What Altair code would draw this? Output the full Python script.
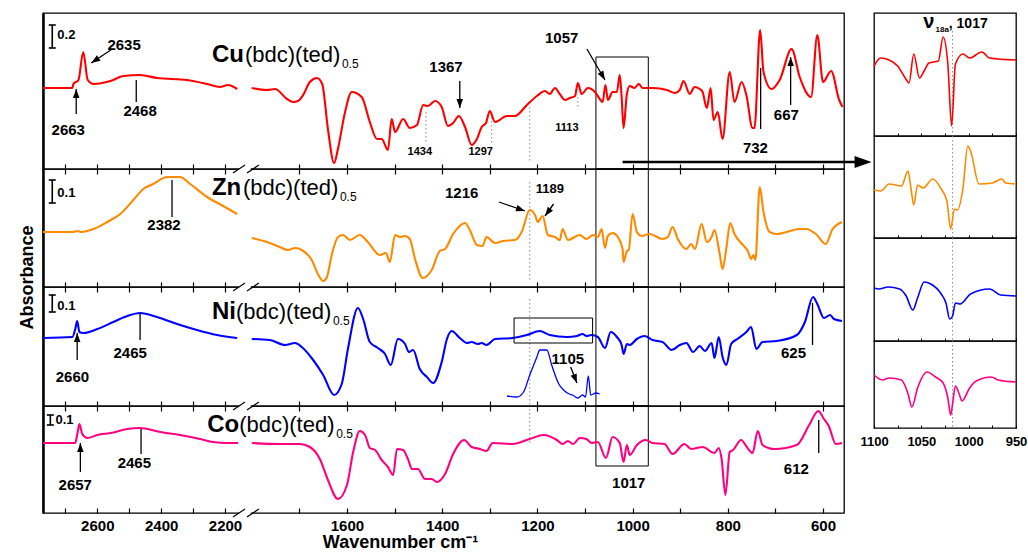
import altair as alt
import pandas as pd

FONT = "Liberation Sans"

# ---------------- spectra: wavenumber (cm-1) / absorbance (arb. units, own scale per panel) ----------------
cu_hi_wn = [2770, 2678, 2675, 2659, 2644, 2630, 2612, 2559, 2518, 2466, 2413, 2319, 2256, 2216, 2191, 2162]
cu_hi_ab = [81, 81, 85, 89, 117, 89, 85, 88, 93, 94, 91, 89, 85, 82, 84, 80]
cu_lo_wn = [1800, 1768, 1751, 1726, 1713, 1703, 1692, 1678, 1663, 1652,
            1640, 1627, 1619, 1604, 1590, 1569, 1552, 1537, 1527, 1514,
            1506, 1499, 1482, 1468, 1453, 1440, 1430, 1415, 1401, 1388,
            1377, 1365, 1352, 1338, 1327, 1317, 1308, 1300, 1289, 1264,
            1247, 1222, 1201, 1184, 1174, 1163, 1153, 1142, 1132, 1121,
            1115, 1107, 1094, 1079, 1069, 1063, 1057, 1052, 1042, 1033,
            1027, 1023, 1019, 1012, 1006, 996, 987, 979, 958, 928,
            911, 901, 893, 880, 870, 859, 853, 844, 836, 830,
            821, 811, 796, 786, 771, 761, 748, 744, 732, 725,
            708, 691, 666, 649, 625, 612, 600, 583, 566, 559]
cu_lo_ab = [81, 79, 80, 70, 67, 68, 74, 87, 91, 85,
            40, 6, 20, 57, 77, 72, 47, 30, 30, 19,
            50, 37, 50, 41, 44, 64, 63, 68, 62, 43,
            46, 53, 42, 24, 30, 42, 46, 58, 47, 53,
            53, 64, 73, 78, 75, 81, 75, 69, 71, 73,
            86, 75, 81, 77, 70, 67, 84, 69, 77, 77,
            94, 72, 41, 75, 83, 81, 85, 81, 81, 79,
            76, 79, 88, 75, 82, 80, 77, 61, 81, 49,
            57, 30, 97, 67, 87, 74, 41, 41, 139, 97,
            80, 89, 120, 92, 72, 134, 87, 98, 69, 62]

zn_hi_wn = [2770, 2678, 2662, 2650, 2612, 2569, 2528, 2487, 2456, 2425, 2381, 2341, 2309, 2256, 2206, 2162]
zn_hi_ab = [55, 55, 56, 55, 58, 65, 73, 87, 98, 103, 110, 110, 103, 90, 81, 73]
zn_lo_wn = [1800, 1768, 1741, 1724, 1709, 1695, 1674, 1660, 1650, 1642,
            1632, 1619, 1608, 1594, 1573, 1558, 1531, 1518, 1510, 1499,
            1489, 1478, 1468, 1457, 1441, 1422, 1405, 1394, 1377, 1352,
            1342, 1327, 1315, 1307, 1289, 1272, 1247, 1233, 1216, 1205,
            1199, 1189, 1178, 1163, 1153, 1147, 1136, 1111, 1097, 1083,
            1073, 1065, 1058, 1052, 1042, 1031, 1021, 1019, 1012, 1008,
            1000, 991, 981, 964, 937, 926, 916, 905, 887, 877,
            869, 855, 844, 834, 828, 817, 811, 803, 795, 786,
            768, 758, 751, 746, 742, 733, 725, 712, 697, 649,
            635, 615, 594, 581, 560]
zn_lo_ab = [49, 45, 40, 37, 39, 37, 27, 12, 6, 10,
            32, 50, 52, 47, 52, 46, 32, 34, 25, 52,
            50, 51, 48, 28, 9, 17, 36, 38, 53, 64,
            57, 42, 41, 50, 44, 46, 47, 55, 77, 72,
            65, 71, 52, 50, 47, 58, 47, 52, 48, 52,
            50, 58, 39, 51, 54, 50, 38, 25, 36, 37,
            73, 55, 51, 53, 48, 50, 60, 48, 38, 43,
            38, 63, 45, 50, 57, 33, 18, 39, 64, 53,
            42, 36, 28, 32, 27, 100, 75, 55, 53, 58,
            58, 53, 43, 57, 65]

ni_hi_wn = [2770, 2678, 2669, 2663, 2656, 2644, 2600, 2550, 2506, 2466, 2413, 2350, 2288, 2225, 2162]
ni_hi_ab = [68, 69, 77, 85, 74, 73, 77, 84, 90, 93, 89, 82, 76, 71, 68]
ni_lo_wn = [1800, 1762, 1730, 1709, 1695, 1671, 1650, 1627, 1611, 1598,
            1577, 1566, 1552, 1535, 1520, 1508, 1493, 1478, 1470, 1461,
            1447, 1432, 1419, 1401, 1390, 1380, 1363, 1348, 1338, 1325,
            1317, 1307, 1289, 1252, 1222, 1195, 1174, 1138, 1117, 1105,
            1097, 1086, 1073, 1058, 1046, 1033, 1023, 1019, 1012, 1006,
            991, 975, 958, 937, 918, 901, 887, 873, 859, 848,
            834, 828, 819, 811, 803, 793, 780, 761, 751, 740,
            727, 697, 655, 638, 621, 612, 598, 585, 577, 560]
ni_lo_ab = [67, 66, 61, 63, 59, 46, 31, 11, 22, 57,
            98, 87, 64, 58, 52, 41, 67, 62, 54, 56,
            37, 29, 23, 44, 67, 75, 68, 63, 64, 62,
            63, 61, 67, 68, 71, 75, 71, 69, 70, 72,
            70, 71, 69, 58, 74, 69, 61, 52, 62, 61,
            67, 70, 66, 64, 56, 61, 63, 54, 60, 55,
            63, 48, 69, 49, 41, 62, 67, 74, 79, 57,
            64, 65, 71, 84, 109, 102, 88, 91, 87, 85]
# magnified trace of the boxed Ni region
ni_zoom_wn = [1264, 1243, 1229, 1216, 1201, 1195, 1180, 1170, 1155, 1145, 1133, 1126, 1115, 1105, 1099, 1093, 1088, 1077, 1069]
ni_zoom_ab = [10, 9, 14, 31, 49, 56, 56, 41, 22, 16, 12, 11, 8, 11, 9, 30, 11, 13, 12]

co_hi_wn = [2770, 2669, 2663, 2656, 2647, 2631, 2600, 2559, 2506, 2466, 2403, 2341, 2278, 2237, 2194, 2159]
co_hi_ab = [70, 70, 78, 89, 79, 75, 78, 80, 84, 85, 81, 78, 74, 71, 70, 70]
co_lo_wn = [1800, 1741, 1699, 1678, 1657, 1640, 1619, 1600, 1587, 1573,
            1562, 1552, 1541, 1527, 1514, 1503, 1495, 1482, 1472, 1463,
            1451, 1436, 1422, 1411, 1394, 1377, 1354, 1338, 1321, 1307,
            1294, 1252, 1216, 1187, 1159, 1147, 1136, 1125, 1111, 1097,
            1086, 1073, 1056, 1042, 1027, 1019, 1012, 1006, 991, 972,
            958, 933, 916, 891, 877, 853, 828, 819, 813, 805,
            796, 789, 772, 760, 748, 737, 727, 702, 655, 629,
            610, 598, 588, 573, 560]
co_lo_ab = [70, 69, 69, 66, 54, 33, 14, 28, 61, 82,
            78, 65, 63, 53, 46, 38, 64, 63, 54, 44,
            44, 34, 34, 31, 39, 59, 73, 66, 64, 62,
            70, 69, 74, 78, 73, 69, 72, 69, 75, 74,
            70, 71, 55, 76, 70, 51, 68, 58, 68, 73,
            70, 69, 59, 69, 64, 66, 60, 65, 54, 18,
            61, 63, 73, 66, 60, 82, 68, 64, 68, 88,
            102, 94, 87, 69, 70]

# inset (1100-950 cm-1)
cu_in_wn = [1100, 1093, 1084, 1075, 1067, 1063, 1058, 1052, 1047, 1042, 1032, 1027, 1022, 1018, 1014, 1006, 999, 986, 978, 950]
cu_in_ab = [70, 78, 76, 70, 58, 53, 82, 58, 65, 73, 75, 99, 72, 10, 72, 82, 78, 84, 78, 76]
zn_in_wn = [1100, 1093, 1084, 1071, 1064, 1061, 1058, 1054, 1048, 1038, 1029, 1023, 1019, 1015, 1012, 1006, 1001, 998, 989, 975, 965, 961, 950]
zn_in_ab = [48, 47, 54, 52, 67, 50, 33, 53, 50, 59, 49, 37, 9, 29, 28, 50, 92, 87, 54, 55, 59, 55, 54]
ni_in_wn = [1100, 1095, 1085, 1073, 1066, 1059, 1054, 1047, 1040, 1029, 1024, 1020, 1017, 1014, 1009, 998, 978, 966, 950]
ni_in_ab = [53, 52, 54, 52, 45, 31, 43, 59, 57, 47, 38, 22, 25, 38, 37, 47, 52, 46, 45]
co_in_wn = [1100, 1091, 1084, 1071, 1064, 1060, 1054, 1044, 1035, 1027, 1022, 1019, 1017, 1014, 1010, 1007, 999, 992, 976, 969, 950]
co_in_ab = [53, 48, 50, 48, 34, 21, 40, 56, 51, 45, 30, 13, 24, 42, 34, 27, 40, 47, 51, 48, 46]

# ---------------- annotations (wavenumber, absorbance) ----------------
cu_labels = [(2516, 124, "2635"), (2691, 39, "2663"), (2466, 58, "2468"), (1392, 102, "1367"),
             (1149, 131, "1057"), (742, 21, "732"), (677, 54, "667")]
cu_small = [(1447, 17, "1434"), (1319, 17, "1297"), (1138, 41, "1113")]
cu_ptr = [(2553, 120, 2619, 106), (2666, 55, 2666, 80), (2478, 89, 2478, 67), (1363, 88, 1363, 61),
          (1096, 120, 1058, 89), (731, 101, 731, 40), (668, 64, 668, 112)]
cu_heads = [(2619, 106, 236), (2666, 80, 0), (1363, 61, 180), (1058, 89, 150), (668, 112, 0)]
cu_dots = [(1434, 57, 26), (1296, 52, 26), (1115, 72, 60), (1216, 62, 7)]

zn_labels = [(2391, 62, "2382"), (1359, 94, "1216")]
zn_small = [(1174, 98, "1189")]
zn_ptr = [(2366, 107, 2366, 70), (1281, 85, 1226, 76), (1166, 83, 1184, 71)]
zn_heads = [(1226, 76, 109), (1184, 71, 217)]
zn_dots = [(1216, 105, 5)]

ni_labels = [(2678, 29, "2660"), (2497, 53, "2465"), (1136, 47, "1105"), (662, 53, "625")]
ni_ptr = [(2663, 46, 2663, 73), (2466, 93, 2466, 66), (1130, 39, 1117, 23), (622, 103, 622, 61)]
ni_heads = [(2663, 73, 0), (1117, 23, 159)]
ni_dots = [(1216, 107, 1)]

co_labels = [(2669, 28, "2657"), (2484, 50, "2465"), (656, 44, "612"), (1008, 30, "1017")]
co_ptr = [(2653, 41, 2653, 70), (2463, 84, 2463, 59), (609, 93, 609, 60)]
co_heads = [(2653, 70, 0)]
co_dots = [(1216, 104, 68)]

# ---------------- layout / style ----------------
MAIN_W = 801
ROW_H = [156, 118, 119, 107]
INSET_W = 142
INSET_H = [123, 102, 103, 87]
XS_DOMAIN = [2770, 2150, 1810, 558]
XS_RANGE = [0, 198, 204, 800]
MAIN_TICKS = [2700, 2600, 2500, 2400, 2300, 2200, 1700, 1600, 1500, 1400, 1300, 1200, 1100, 1000, 900, 800, 700, 600]
INSET_TICKS = [1100, 1075, 1050, 1025, 1000, 975, 950]
HEAD = "M0,0L0.36,1L-0.36,1Z"


def main_xaxis(last):
    if last:
        return alt.Axis(values=MAIN_TICKS, format="d", labelExpr="datum.value % 200 == 0 ? datum.label : ''",
                        domain=False, grid=False, offset=-5, tickSize=5, tickColor="black", tickWidth=1.2,
                        labelFont=FONT, labelFontSize=15, labelFontWeight="bold", labelColor="black",
                        labelPadding=5, labelOverlap=False, labelFlush=False,
                        title="Wavenumber cm⁻¹", titleFont=FONT, titleFontSize=18, titleFontWeight="bold",
                        titleColor="black", titleX=357, titleY=39, titleAlign="center",
                        titleBaseline="alphabetic")
    return alt.Axis(values=MAIN_TICKS, labels=False, domain=False, grid=False, offset=-5, tickSize=10,
                    tickColor="black", tickWidth=1.2, title=None)


def main_yaxis(with_title):
    if with_title:
        return alt.Axis(domain=True, domainColor="black", domainWidth=2.5, ticks=False, labels=False, grid=False,
                        title="Absorbance", titleFont=FONT, titleFontSize=18, titleFontWeight="bold",
                        titleColor="black", titleY=108, titlePadding=7)
    return alt.Axis(domain=True, domainColor="black", domainWidth=2.5, ticks=False, labels=False, grid=False,
                    title=None)


def head_chart(df, size, X, Y):
    return alt.Chart(df).mark_point(shape=HEAD, filled=True, color="black", size=size, opacity=1,
                                    strokeWidth=0, strokeOpacity=0).encode(
        X(), Y(), angle=alt.Angle("ang:Q", scale=None))


def main_row(H, color, hi_wn, hi_ab, lo_wn, lo_ab, name, name_pos, name_w, bar, bar_text,
             labels, small, small_size, ptr, heads, dots, box, breaks, last=False, ytitle=False, extra=None):
    xs = alt.Scale(domain=XS_DOMAIN, range=XS_RANGE, nice=False, zero=False)
    ys = alt.Scale(domain=[0, H], nice=False, zero=False)
    xa = main_xaxis(last)
    ya = main_yaxis(ytitle)

    def X(f="wn"):
        return alt.X(f"{f}:Q", scale=xs, axis=xa)

    def Y(f="a"):
        return alt.Y(f"{f}:Q", scale=ys, axis=ya)

    def text_layer(rows, size, weight="bold", align="center", baseline="middle", dx=0, dy=0):
        df = pd.DataFrame(rows, columns=["wn", "a", "t"])
        return alt.Chart(df).mark_text(font=FONT, fontSize=size, fontWeight=weight, align=align,
                                       baseline=baseline, dx=dx, dy=dy, color="black").encode(X(), Y(), text="t:N")

    curve = pd.DataFrame({"wn": hi_wn + lo_wn, "a": hi_ab + lo_ab,
                          "seg": ["high"] * len(hi_wn) + ["low"] * len(lo_wn)})
    layers = []
    bdf = pd.DataFrame([box], columns=["wn", "wn2", "a", "a2"])
    layers.append(alt.Chart(bdf).mark_rect(fillOpacity=0, stroke="black", strokeWidth=1)
                  .encode(X(), Y(), x2="wn2:Q", y2="a2:Q"))
    ddf = pd.DataFrame(dots, columns=["wn", "a", "a2"])
    layers.append(alt.Chart(ddf).mark_rule(color="#8a8a8a", strokeDash=[1.5, 2.5], strokeWidth=1)
                  .encode(X(), Y(), y2="a2:Q"))
    layers.append(alt.Chart(curve).mark_line(color=color, strokeWidth=2.1, interpolate="monotone")
                  .encode(X(), Y(), detail="seg:N", order=alt.Order("wn:Q", sort="descending")))
    if extra is not None:
        layers.extend(extra(X, Y))
    if ptr:
        pdf = pd.DataFrame(ptr, columns=["wn", "a", "wn2", "a2"])
        layers.append(alt.Chart(pdf).mark_rule(color="black", strokeWidth=1.3)
                      .encode(X(), Y(), x2="wn2:Q", y2="a2:Q"))
    if heads:
        hdf = pd.DataFrame(heads, columns=["wn", "a", "ang"])
        layers.append(head_chart(hdf, 324, X, Y))
    sdf = pd.DataFrame([bar], columns=["wn", "a", "a2"])
    layers.append(alt.Chart(sdf).mark_rule(color="black", strokeWidth=1.6).encode(X(), Y(), y2="a2:Q"))
    tdf = pd.DataFrame([(bar[0], bar[1]), (bar[0], bar[2])], columns=["wn", "a"])
    layers.append(alt.Chart(tdf).mark_tick(orient="horizontal", size=7, thickness=1.6, color="black", opacity=1)
                  .encode(X(), Y()))
    layers.append(text_layer([bar_text], 13, align="left"))
    if labels:
        layers.append(text_layer(labels, 15))
    if small:
        layers.append(text_layer(small, small_size))
    layers.append(text_layer([(name_pos[0], name_pos[1], name)], 24, align="left", baseline="alphabetic"))
    layers.append(text_layer([(name_pos[0], name_pos[1], "(bdc)(ted)")], 22, weight="normal", align="left",
                             baseline="alphabetic", dx=name_w))
    layers.append(text_layer([(name_pos[0], name_pos[1], "0.5")], 12, weight="normal", align="left",
                             baseline="alphabetic", dx=name_w + 97, dy=6))
    if breaks:
        gaps = [(2156, b, 1802, b) for b in breaks]
        slashes = []
        for b in breaks:
            slashes.append((2175, b - 4, 1923, b + 4))
            slashes.append((1810, b - 4, 1785, b + 4))
        gdf = pd.DataFrame(gaps, columns=["wn", "a", "wn2", "a2"])
        layers.append(alt.Chart(gdf).mark_rule(color="white", strokeWidth=3.5)
                      .encode(X(), Y(), x2="wn2:Q", y2="a2:Q"))
        sldf = pd.DataFrame(slashes, columns=["wn", "a", "wn2", "a2"])
        layers.append(alt.Chart(sldf).mark_rule(color="black", strokeWidth=1.2)
                      .encode(X(), Y(), x2="wn2:Q", y2="a2:Q"))
    return alt.layer(*layers).properties(width=MAIN_W, height=H)


def cu_extra(X, Y):
    line = pd.DataFrame([(1021, 7, 527, 7)], columns=["wn", "a", "wn2", "a2"])
    head = pd.DataFrame([(498, 7, 90)], columns=["wn", "a", "ang"])
    return [alt.Chart(line).mark_rule(color="black", strokeWidth=2.6).encode(X(), Y(), x2="wn2:Q", y2="a2:Q"),
            head_chart(head, 1156, X, Y)]


def ni_extra(X, Y):
    z = pd.DataFrame({"wn": ni_zoom_wn, "a": ni_zoom_ab})
    b = pd.DataFrame([(1249, 1084, 88, 63)], columns=["wn", "wn2", "a", "a2"])
    return [alt.Chart(z).mark_line(color="#0000ff", strokeWidth=1.3, interpolate="monotone")
            .encode(X(), Y(), order=alt.Order("wn:Q", sort="descending")),
            alt.Chart(b).mark_rect(fillOpacity=0, stroke="black", strokeWidth=1)
            .encode(X(), Y(), x2="wn2:Q", y2="a2:Q")]


rows = [
    main_row(ROW_H[0], "#ff0000", cu_hi_wn, cu_hi_ab, cu_lo_wn, cu_lo_ab, "Cu", (2241, 107), 33,
             (2741, 121, 144), (2725, 134, "0.2"), cu_labels, cu_small, 11, cu_ptr, cu_heads, cu_dots,
             (1077, 967, 112, 0), [], extra=cu_extra),
    main_row(ROW_H[1], "#ff8a00", zn_hi_wn, zn_hi_ab, zn_lo_wn, zn_lo_ab, "Zn", (2241, 92), 31,
             (2741, 84, 107), (2725, 94, "0.1"), zn_labels, zn_small, 13, zn_ptr, zn_heads, zn_dots,
             (1077, 967, ROW_H[1], 0), [ROW_H[1]], ytitle=True),
    main_row(ROW_H[2], "#0000ff", ni_hi_wn, ni_hi_ab, ni_lo_wn, ni_lo_ab, "Ni", (2241, 87), 24,
             (2741, 94, 111), (2725, 100, "0.1"), ni_labels, [], 12, ni_ptr, ni_heads, ni_dots,
             (1077, 967, ROW_H[2], 0), [ROW_H[2]], extra=ni_extra),
    main_row(ROW_H[3], "#ff0080", co_hi_wn, co_hi_ab, co_lo_wn, co_lo_ab, "Co", (2256, 81), 32,
             (2747, 88, 98), (2731, 93, "0.1"), co_labels, [], 12, co_ptr, co_heads, co_dots,
             (1077, 967, ROW_H[3], 47), [ROW_H[3], 0], last=True),
]


def inset_row(H, color, wn, ab, dot_top, last=False, title=False):
    xs = alt.Scale(domain=[1100, 950], nice=False, zero=False)
    ys = alt.Scale(domain=[0, H], nice=False, zero=False)
    if last:
        xa = alt.Axis(values=INSET_TICKS, format="d", labelExpr="datum.value % 50 == 0 ? datum.label : ''",
                      domain=False, grid=False, offset=-3, tickSize=3, tickColor="black", labelFont=FONT,
                      labelFontSize=13, labelFontWeight="bold", labelColor="black", labelPadding=7,
                      labelOverlap=False, labelFlush=False, title=None)
    else:
        xa = alt.Axis(values=INSET_TICKS, labels=False, domain=False, grid=False, offset=-3, tickSize=3,
                      tickColor="black", title=None)

    def X(f="wn"):
        return alt.X(f"{f}:Q", scale=xs, axis=xa)

    def Y(f="a"):
        return alt.Y(f"{f}:Q", scale=ys, axis=None)

    df = pd.DataFrame({"wn": wn, "a": ab})
    dot = pd.DataFrame([(1017, dot_top, 0)], columns=["wn", "a", "a2"])
    layers = [
        alt.Chart(dot).mark_rule(color="#8a8a8a", strokeDash=[1.5, 2.5], strokeWidth=1).encode(X(), Y(), y2="a2:Q"),
        alt.Chart(df).mark_line(color=color, strokeWidth=1.6, interpolate="monotone")
        .encode(X(), Y(), order=alt.Order("wn:Q", sort="descending")),
    ]
    if title:
        def t(rows, size, weight="bold"):
            d = pd.DataFrame(rows, columns=["wn", "a", "t"])
            return alt.Chart(d).mark_text(font=FONT, fontSize=size, fontWeight=weight, align="left",
                                          baseline="alphabetic", color="black").encode(X(), Y(), text="t:N")
        layers += [t([(1048, 108, "ν")], 20), t([(1035, 104, "18a")], 8), t([(1021, 108, ", 1017")], 14)]
    return alt.layer(*layers).properties(width=INSET_W, height=H)


irows = [
    inset_row(INSET_H[0], "#ff0000", cu_in_wn, cu_in_ab, 105, title=True),
    inset_row(INSET_H[1], "#ff8a00", zn_in_wn, zn_in_ab, INSET_H[1]),
    inset_row(INSET_H[2], "#0000ff", ni_in_wn, ni_in_ab, INSET_H[2]),
    inset_row(INSET_H[3], "#ff0080", co_in_wn, co_in_ab, INSET_H[3], last=True),
]

main = alt.vconcat(*rows, spacing=0, bounds="flush").resolve_scale(x="independent", y="independent")
inset = alt.vconcat(*irows, spacing=0, bounds="flush").resolve_scale(x="independent", y="independent")

chart = (alt.hconcat(main, inset, spacing=-14, bounds="full")
         .resolve_scale(x="independent", y="independent")
         .properties(padding={"left": 17, "top": 11, "right": 0, "bottom": 2}, background="white")
         .configure_view(stroke="black", strokeWidth=1.3))

chart.save("out.html", embed_options={"renderer": "svg", "actions": False})
